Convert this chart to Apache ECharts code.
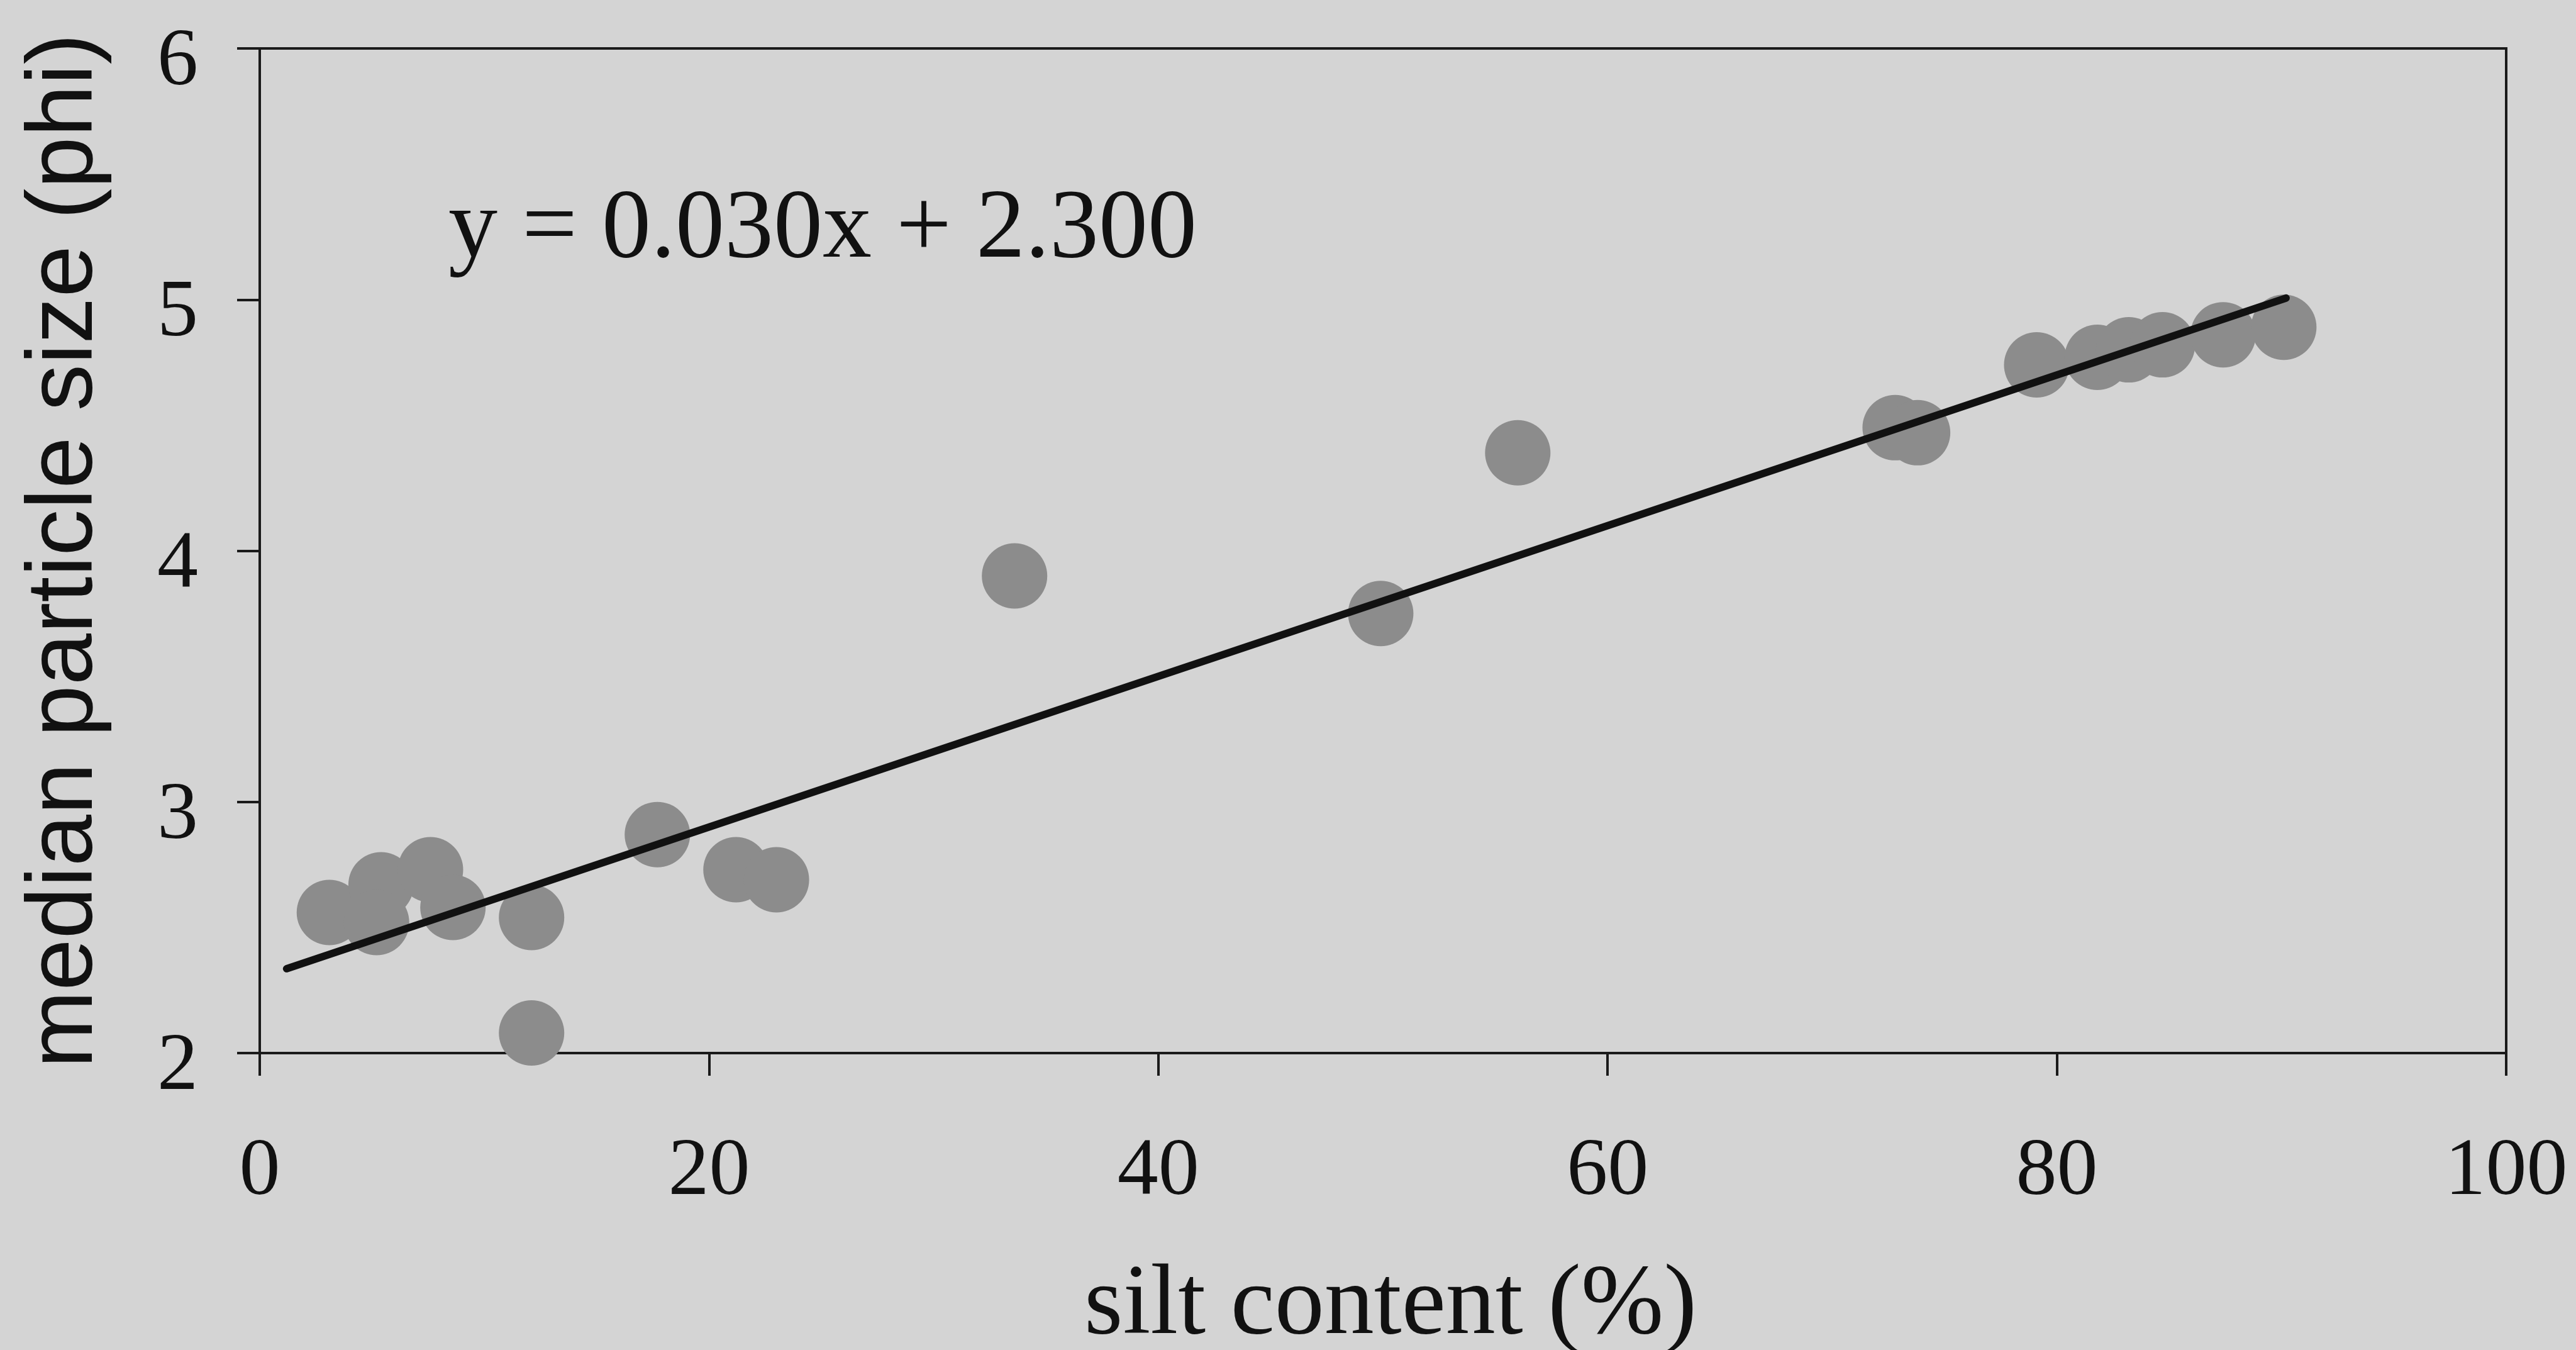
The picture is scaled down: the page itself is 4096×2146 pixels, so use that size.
<!DOCTYPE html>
<html>
<head>
<meta charset="utf-8">
<title>Median particle size vs silt content</title>
<script src="https://cdn.jsdelivr.net/npm/echarts@6/dist/echarts.min.js"></script>
<style>
  html, body { margin: 0; padding: 0; background: #d4d4d4; }
  #chart { width: 4096px; height: 2146px; }
</style>
</head>
<body>
<div id="chart"></div>
<script>
// Silt content (%) of each sample
const siltContent = [3.1, 5.4, 5.2, 7.6, 8.6, 12.1, 12.1, 17.7, 21.2, 23.0,
                     33.6, 49.9, 56.0, 72.8, 73.8, 79.1, 81.8, 83.2, 84.7, 87.4, 90.1];
// Median particle size (phi) of each sample
const medianPhi = [2.56, 2.67, 2.52, 2.73, 2.58, 2.54, 2.08, 2.87, 2.73, 2.69,
                   3.90, 3.75, 4.39, 4.49, 4.47, 4.74, 4.77, 4.80, 4.82, 4.86, 4.89];

// Linear fit y = slope * x + intercept, drawn across the sampled range
const slope = 0.030;
const intercept = 2.300;
const trendX = [1.2, 90.2];

// Axis ticks
const xTicks = [0, 20, 40, 60, 80, 100];
const yTicks = [2, 3, 4, 5, 6];

const points = siltContent.map((x, i) => [x, medianPhi[i]]);
const trendLine = trendX.map(x => [x, slope * x + intercept]);
const equationText = 'y = ' + slope.toFixed(3) + 'x + ' + intercept.toFixed(3);

const ink = '#1a1a1a';
const serif = '"Liberation Serif", "Times New Roman", serif';
const sans = '"Liberation Sans", Arial, sans-serif';

const chart = echarts.init(document.getElementById('chart'), null, { renderer: 'canvas' });

chart.setOption({
  backgroundColor: '#d4d4d4',
  animation: false,
  grid: {
    left: 413, right: 111, top: 77, bottom: 472,
    outerBoundsMode: 'none',
    containLabel: false,
    show: true, borderColor: ink, borderWidth: 4, backgroundColor: 'transparent'
  },
  xAxis: {
    type: 'value',
    min: xTicks[0], max: xTicks[xTicks.length - 1],
    interval: xTicks[1] - xTicks[0],
    splitLine: { show: false },
    axisLine: { show: true, onZero: false, lineStyle: { color: ink, width: 4 } },
    axisTick: { show: true, inside: false, length: 36, lineStyle: { color: ink, width: 4 } },
    axisLabel: { margin: 125, fontFamily: serif, fontSize: 130, color: '#111' }
  },
  yAxis: {
    type: 'value',
    min: yTicks[0], max: yTicks[yTicks.length - 1],
    interval: yTicks[1] - yTicks[0],
    splitLine: { show: false },
    axisLine: { show: true, onZero: false, lineStyle: { color: ink, width: 4 } },
    axisTick: { show: true, inside: false, length: 36, lineStyle: { color: ink, width: 4 } },
    axisLabel: {
      margin: 98, fontFamily: serif, fontSize: 130, color: '#111',
      verticalAlign: 'top', lineHeight: 46
    },
    name: 'median particle size (phi)',
    nameLocation: 'middle',
    nameRotate: 90,
    nameGap: 234,
    nameTextStyle: { fontFamily: sans, fontSize: 148, color: '#111' }
  },
  series: [
    {
      type: 'scatter',
      data: points,
      symbol: 'circle',
      symbolSize: 104,
      itemStyle: { color: '#8c8c8c', opacity: 1 },
      z: 2
    },
    {
      type: 'line',
      data: trendLine,
      showSymbol: false,
      symbol: 'none',
      lineStyle: { color: '#111', width: 12, cap: 'round' },
      z: 3
    }
  ],
  graphic: [
    {
      // fitted-line equation
      type: 'text',
      x: 713,
      y: 367,
      style: {
        text: equationText,
        fontFamily: serif,
        fontSize: 156,
        fill: '#111',
        align: 'left',
        verticalAlign: 'middle'
      },
      z: 10
    },
    {
      // x-axis title
      type: 'text',
      x: 2211,
      y: 2077,
      style: {
        text: 'silt content (%)',
        fontFamily: serif,
        fontSize: 158,
        fill: '#111',
        align: 'center',
        verticalAlign: 'middle'
      },
      z: 10
    }
  ]
});
</script>
</body>
</html>
